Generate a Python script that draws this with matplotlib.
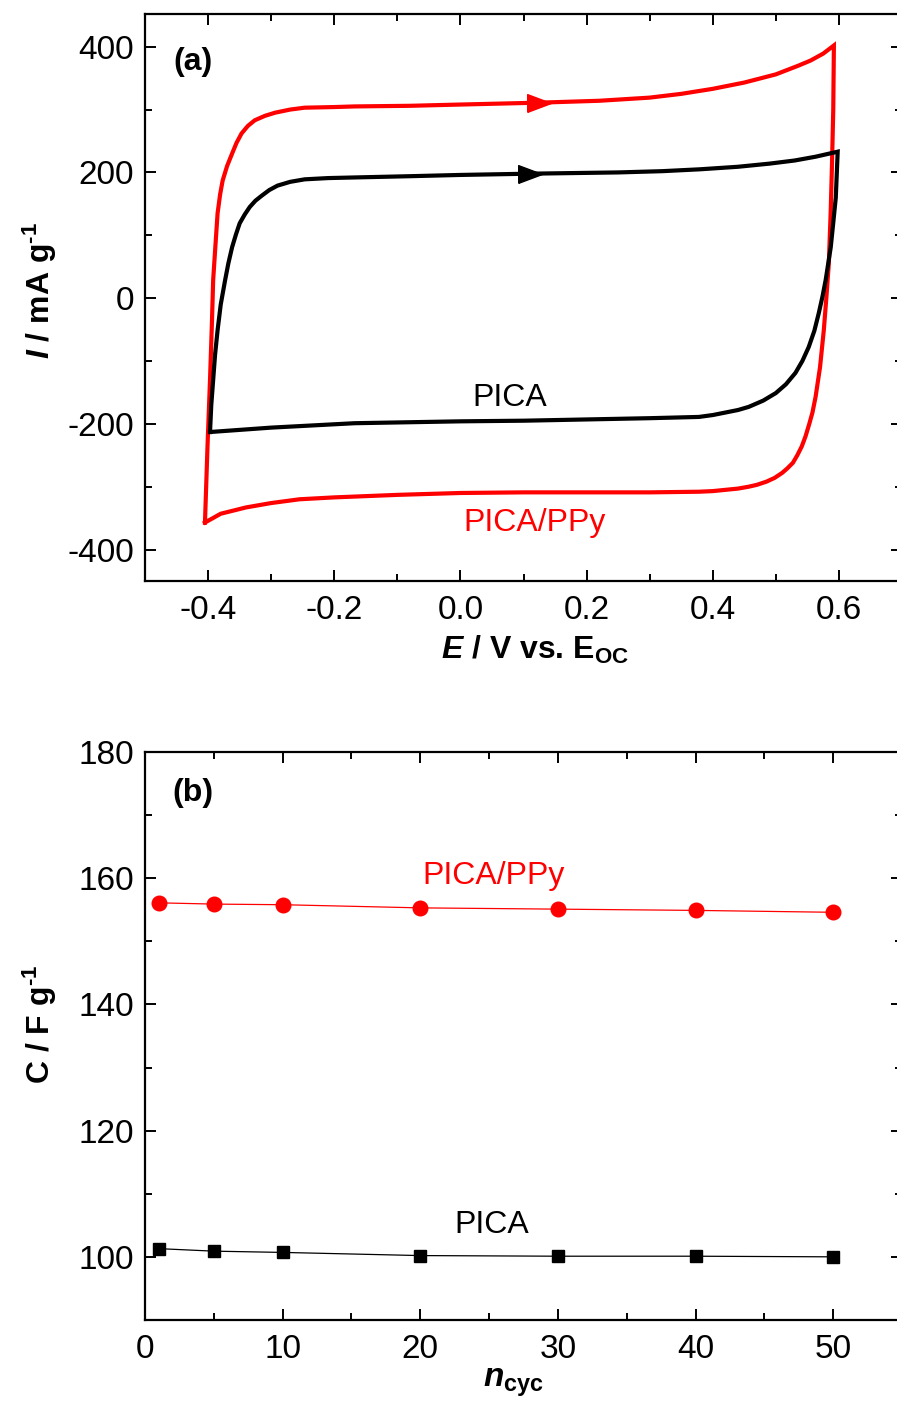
import matplotlib
matplotlib.use("Agg")
import matplotlib.pyplot as plt
from matplotlib.ticker import MultipleLocator

plt.rcParams["font.family"] = ["Liberation Sans", "DejaVu Sans"]
plt.rcParams["axes.unicode_minus"] = False
plt.rcParams["mathtext.fontset"] = "custom"
plt.rcParams["mathtext.rm"] = "Liberation Sans:bold"
plt.rcParams["mathtext.it"] = "Liberation Sans:italic:bold"
plt.rcParams["mathtext.bf"] = "Liberation Sans:bold"

# (a) cyclic voltammograms, E / V vs. E_OC and I / mA g-1
ppy_fwd_E = [-0.405, -0.401, -0.397, -0.394, -0.392, -0.388, -0.385, -0.381, -0.377, -0.370,
             -0.362, -0.355, -0.347, -0.337, -0.326, -0.310, -0.294, -0.270, -0.247, -0.200,
             -0.168, -0.080, 0.000, 0.125, 0.220, 0.300, 0.350, 0.400, 0.450, 0.500,
             0.536, 0.555, 0.575, 0.592]
ppy_fwd_I = [-357, -236, -130, -40, 29, 90, 135, 165, 187, 210,
             230, 247, 262, 274, 283, 290, 295, 300, 303, 304,
             305, 306, 308, 311, 314, 319, 325, 333, 343, 356,
             370, 378, 389, 402]
ppy_rev_E = [0.592, 0.591, 0.589, 0.587, 0.584, 0.580, 0.576, 0.570, 0.563, 0.558,
             0.553, 0.547, 0.541, 0.534, 0.527, 0.518, 0.510, 0.498, 0.485, 0.470,
             0.457, 0.440, 0.420, 0.400, 0.378, 0.300, 0.200, 0.100, 0.000, -0.100,
             -0.200, -0.255, -0.300, -0.340, -0.380, -0.405]
ppy_rev_I = [402, 300, 214, 140, 56, 0, -51, -110, -157, -182,
             -200, -220, -236, -250, -262, -271, -278, -286, -292, -297,
             -300, -303, -305, -307, -308, -309, -309, -309, -310, -313,
             -317, -320, -326, -333, -343, -357]

pica_fwd_E = [-0.397, -0.395, -0.392, -0.389, -0.385, -0.380, -0.373, -0.368, -0.362, -0.356,
              -0.350, -0.342, -0.334, -0.325, -0.315, -0.303, -0.290, -0.270, -0.247, -0.210,
              -0.168, -0.080, 0.000, 0.110, 0.250, 0.320, 0.380, 0.440, 0.490, 0.530,
              0.563, 0.598]
pica_fwd_I = [-213, -170, -130, -90, -51, -10, 29, 55, 81, 101,
              119, 133, 145, 155, 163, 172, 179, 185, 189, 191,
              192, 194, 196, 198, 200, 202, 205, 209, 214, 219,
              225, 233]
pica_rev_E = [0.598, 0.595, 0.591, 0.587, 0.583, 0.579, 0.574, 0.568, 0.561, 0.552,
              0.542, 0.531, 0.516, 0.500, 0.480, 0.457, 0.440, 0.420, 0.400, 0.378,
              0.300, 0.200, 0.100, 0.000, -0.168, -0.300, -0.397]
pica_rev_I = [233, 160, 120, 81, 55, 29, 3, -24, -52, -78,
              -100, -119, -137, -151, -163, -173, -178, -182, -186, -189,
              -191, -193, -195, -196, -199, -206, -213]

ppy_arrow_idx = 23
pica_arrow_idx = 23

# (b) capacitance vs. cycle number
n_cyc = [1, 5, 10, 20, 30, 40, 50]
cap_ppy = [156.1, 155.9, 155.8, 155.3, 155.1, 154.9, 154.6]
cap_pica = [101.3, 100.9, 100.7, 100.2, 100.1, 100.1, 100.0]

RED = "#ff0000"
FS = 24
LFS = 23

fig = plt.figure(figsize=(8.97, 14.03), dpi=100)
ax1 = fig.add_axes([0.1617, 0.5859, 0.8439, 0.4041])
ax2 = fig.add_axes([0.1617, 0.0592, 0.8439, 0.4048])


def style(ax):
    for s in ax.spines.values():
        s.set_linewidth(1.6)
    ax.tick_params(which="both", direction="in", top=True, right=True, width=1.4,
                   labelsize=FS, pad=10)
    ax.tick_params(which="major", length=8)
    ax.tick_params(which="minor", length=5)
    ax.tick_params(axis="y", pad=8)


# ---- panel (a)
ax1.plot(ppy_fwd_E + ppy_rev_E, ppy_fwd_I + ppy_rev_I, color=RED, lw=3, solid_joinstyle="miter")
ax1.plot(pica_fwd_E + pica_rev_E, pica_fwd_I + pica_rev_I, color="black", lw=3,
         solid_joinstyle="miter")
tri = [(-1, -0.75), (1, 0), (-1, 0.75), (-1, -0.75)]
ax1.plot(ppy_fwd_E[ppy_arrow_idx], ppy_fwd_I[ppy_arrow_idx], marker=tri, ms=17, color=RED,
         mec=RED)
ax1.plot(pica_fwd_E[pica_arrow_idx], pica_fwd_I[pica_arrow_idx], marker=tri, ms=17,
         color="black")
ax1.set_xlim(-0.5, 0.7)
ax1.set_ylim(-450, 452)
ax1.xaxis.set_major_locator(MultipleLocator(0.2))
ax1.xaxis.set_minor_locator(MultipleLocator(0.1))
ax1.yaxis.set_major_locator(MultipleLocator(200))
ax1.yaxis.set_minor_locator(MultipleLocator(100))
ax1.xaxis.set_major_formatter(plt.FuncFormatter(lambda v, p: f"{v:.1f}"))
style(ax1)
ax1.text(0.063, 0.915, "(a)", transform=ax1.transAxes, fontsize=LFS, fontweight="bold",
         ha="center", va="center")
ax1.text(0.078, -159, "PICA", fontsize=LFS, ha="center", va="center")
ax1.text(0.117, -357, "PICA/PPy", fontsize=LFS, ha="center", va="center", color=RED)
ax1.text(0.515, -0.122, r"$E$ / V vs. E$_\mathrm{OC}$", transform=ax1.transAxes,
         fontsize=LFS, fontweight="bold", ha="center", va="center")
ax1.text(-0.139, 0.513, r"$I$ / mA g$^{\text{-1}}$", transform=ax1.transAxes, fontsize=LFS,
         fontweight="bold", ha="center", va="center", rotation=90)

# ---- panel (b)
ax2.plot(n_cyc, cap_ppy, color=RED, lw=0.9, marker="o", ms=10.5)
ax2.plot(n_cyc, cap_pica, color="black", lw=0.9, marker="s", ms=9)
ax2.set_xlim(0, 55)
ax2.set_ylim(90, 180)
ax2.xaxis.set_major_locator(MultipleLocator(10))
ax2.xaxis.set_minor_locator(MultipleLocator(5))
ax2.yaxis.set_major_locator(MultipleLocator(20))
ax2.yaxis.set_minor_locator(MultipleLocator(10))
style(ax2)
ax2.text(0.063, 0.928, "(b)", transform=ax2.transAxes, fontsize=LFS, fontweight="bold",
         ha="center", va="center")
ax2.text(25.3, 160.3, "PICA/PPy", fontsize=LFS, ha="center", va="center", color=RED)
ax2.text(25.2, 105.0, "PICA", fontsize=LFS, ha="center", va="center")
ax2.text(0.486, -0.11, r"$n_\mathrm{cyc}$", transform=ax2.transAxes, fontsize=LFS + 1,
         fontweight="bold", ha="center", va="center")
ax2.text(-0.139, 0.52, r"C / F g$^{\text{-1}}$", transform=ax2.transAxes, fontsize=LFS,
         fontweight="bold", ha="center", va="center", rotation=90)

fig.savefig("out.png", dpi=100)
